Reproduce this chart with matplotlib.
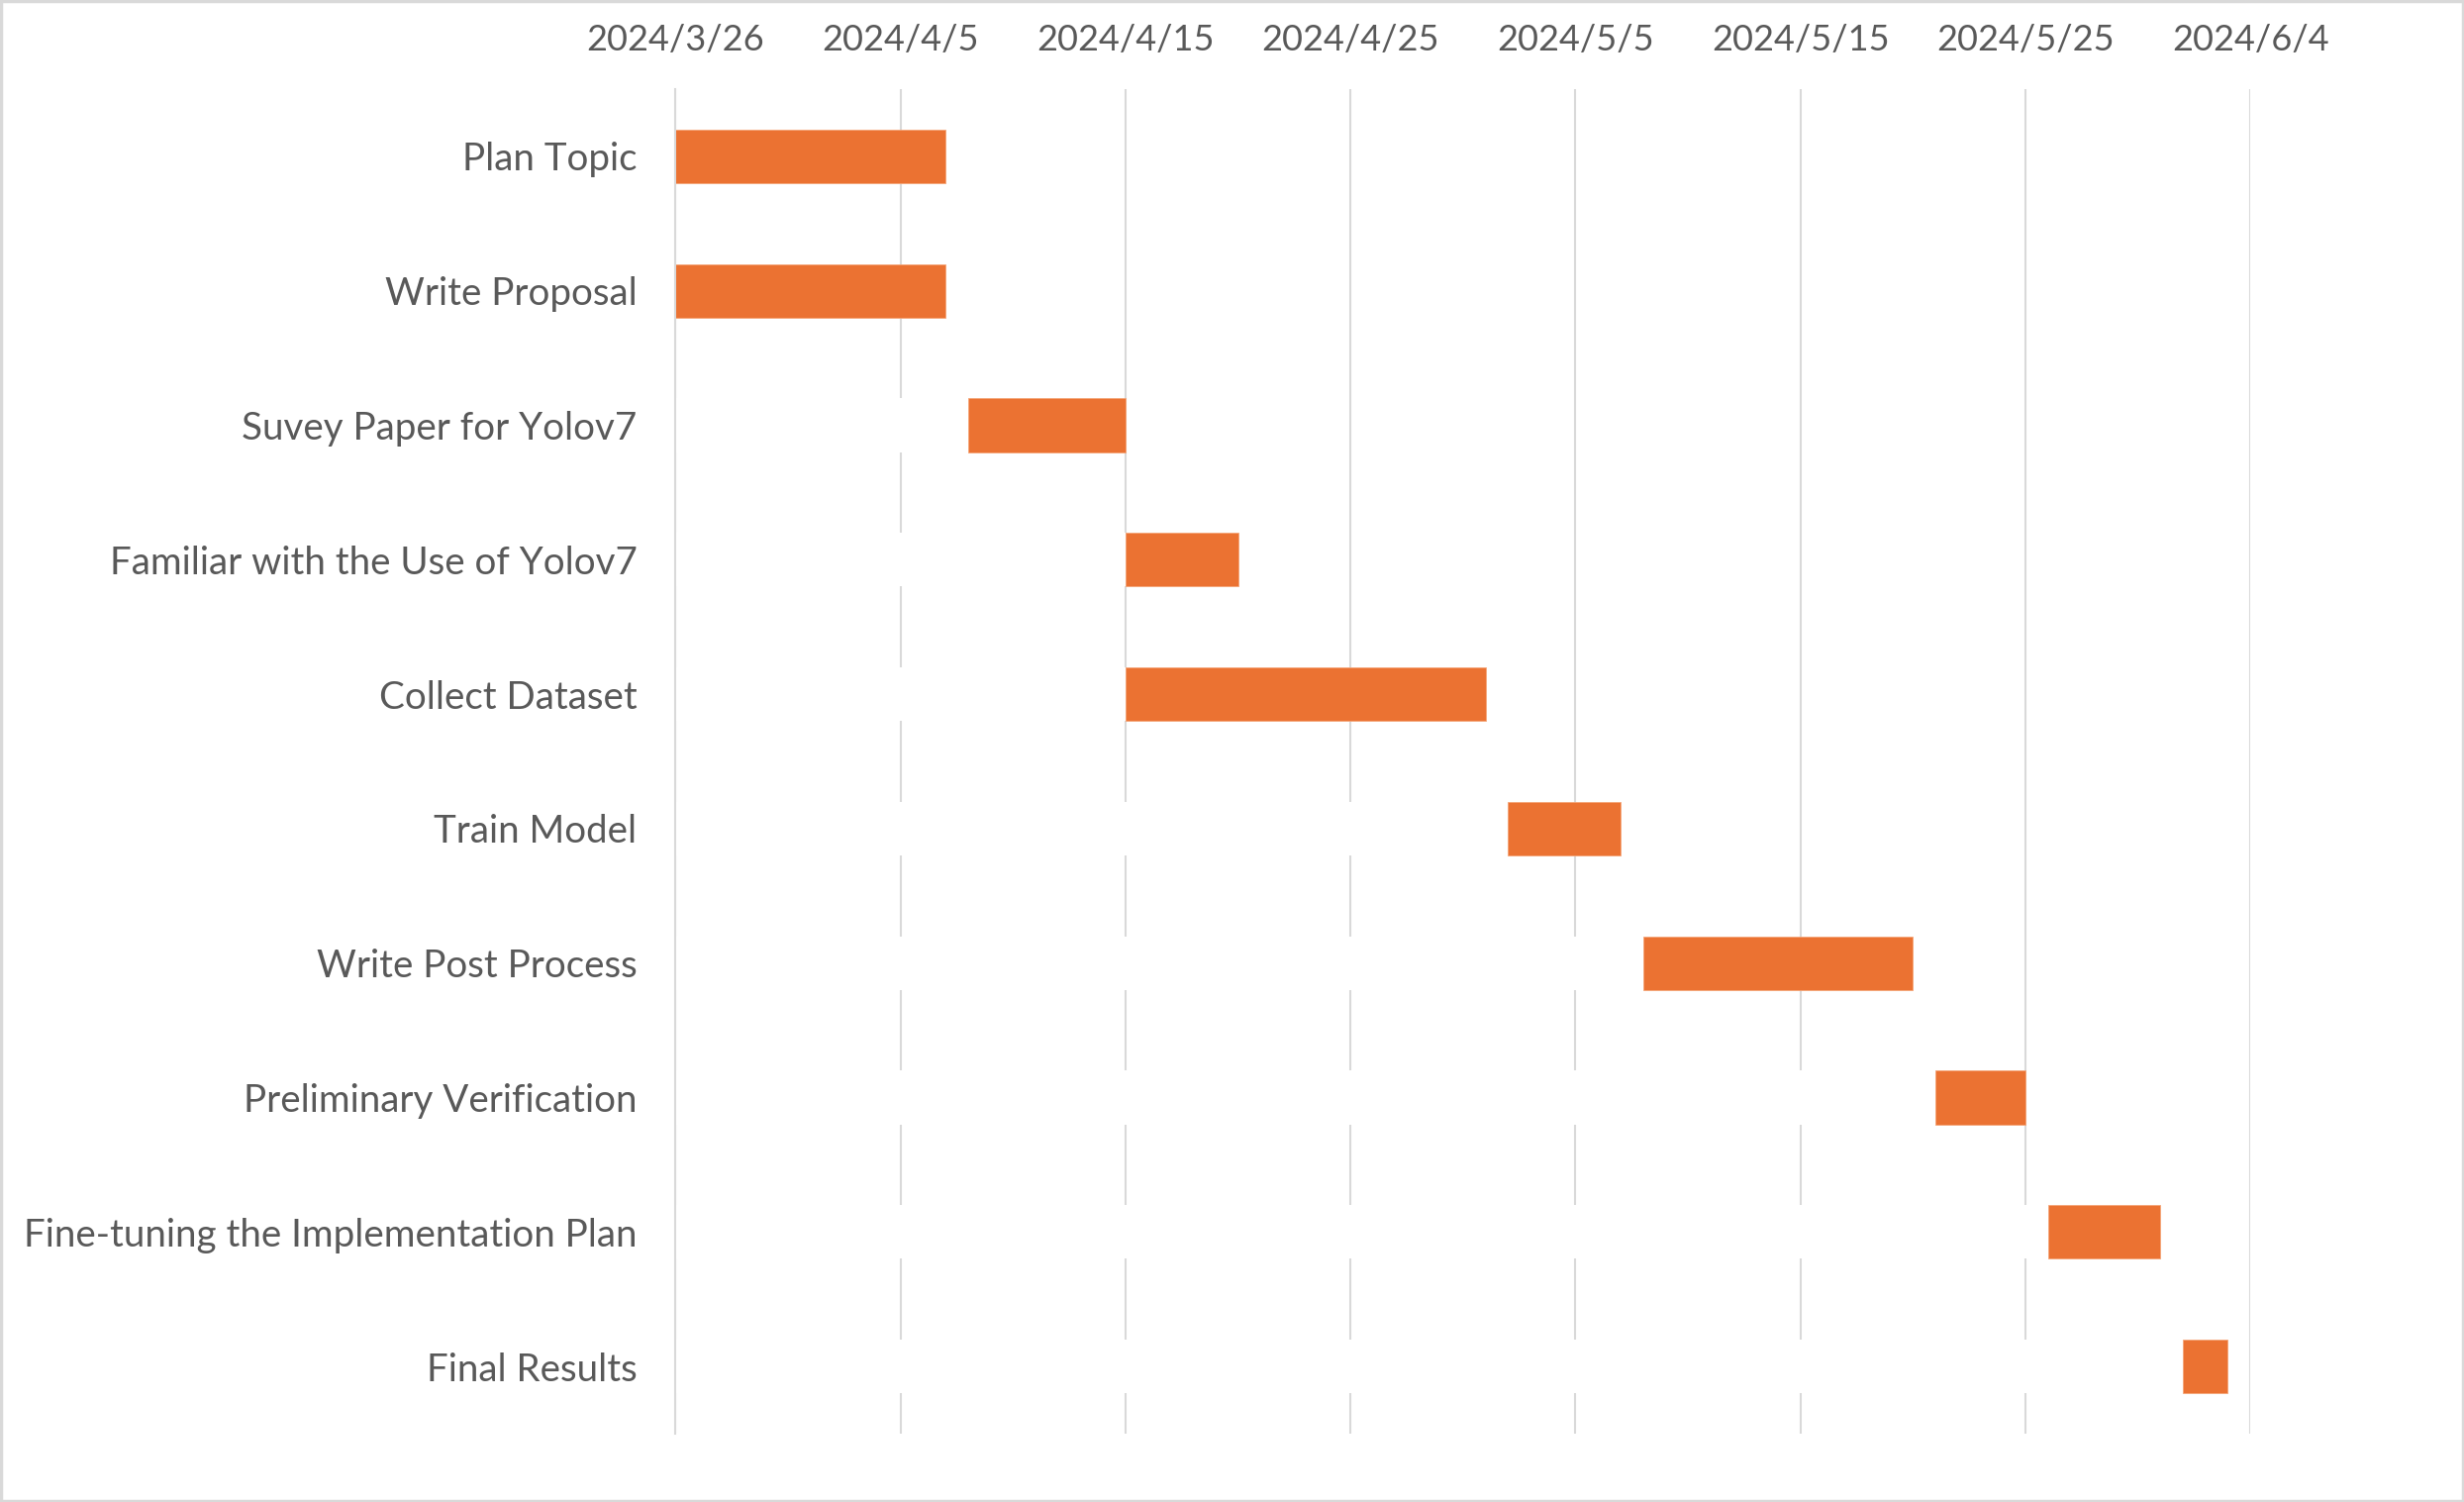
import datetime as dt
import matplotlib
matplotlib.use("Agg")
from matplotlib import pyplot as plt
import matplotlib.dates as mdates
from matplotlib.patches import Rectangle

# Task data (start date, duration in days)
tasks = ['Plan Topic', 'Write Proposal', 'Suvey Paper for Yolov7',
         'Familiar with the Use of Yolov7', 'Collect Dataset', 'Train Model',
         'Write Post Process', 'Preliminary Verification',
         'Fine-tuning the Implementation Plan', 'Final Results']
starts = ['2024-03-26', '2024-03-26', '2024-04-08', '2024-04-15', '2024-04-15',
          '2024-05-02', '2024-05-08', '2024-05-21', '2024-05-26', '2024-06-01']
durations = [12, 12, 7, 5, 16, 5, 12, 4, 5, 2]

axis_start = '2024-03-26'
axis_end = '2024-06-04'
tick_step = 10

plt.rcParams['font.family'] = ['Lato', 'DejaVu Sans']
text_color = '#595959'
grid_color = '#D9D9D9'
bar_color = '#EB7232'

fig = plt.figure(figsize=(24.89, 15.17), dpi=100)
ax = fig.add_axes([0.2742, 0.0455, 0.9133 - 0.2742, 0.9407 - 0.0455])

x0 = mdates.date2num(dt.datetime.fromisoformat(axis_start))
x1 = mdates.date2num(dt.datetime.fromisoformat(axis_end))
start_nums = [mdates.date2num(dt.datetime.fromisoformat(s)) for s in starts]
ypos = list(range(len(tasks)))

# Invisible (white) offset series, like the Excel Gantt trick - hides gridlines
ax.barh(ypos, [s - x0 for s in start_nums], left=x0, height=0.4,
        color='white', zorder=3)
# Actual task durations
ax.barh(ypos, durations, left=start_nums, height=0.4,
        color=bar_color, edgecolor='#F4A578', linewidth=0.6, zorder=4)

# Axes setup
ax.set_xlim(x0, x1)
ax.set_ylim(len(tasks) - 0.5, -0.5)
ticks = [x0 + i * tick_step for i in range(int((x1 - x0) // tick_step) + 1)]
ax.set_xticks(ticks)
labels = []
for t in ticks:
    d = mdates.num2date(t)
    labels.append(f"{d.year}/{d.month}/{d.day}")
ax.set_xticklabels(labels)
ax.set_yticks(ypos)
ax.set_yticklabels(tasks)

ax.xaxis.tick_top()
ax.tick_params(axis='x', length=0, pad=24, labelsize=26, labelcolor=text_color)
ax.tick_params(axis='y', length=0, pad=28, labelsize=27.7, labelcolor=text_color)

ax.grid(axis='x', color=grid_color, linewidth=1.5, zorder=1)
ax.set_axisbelow(True)
for side in ['top', 'right', 'bottom']:
    ax.spines[side].set_visible(False)
ax.spines['left'].set_color(grid_color)
ax.spines['left'].set_linewidth(1.5)
ax.spines['left'].set_zorder(5)

# Light border around the whole chart
fig.patches.append(Rectangle((0.0005, 0.0008), 0.999, 0.9984, transform=fig.transFigure,
                             fill=False, edgecolor=grid_color, linewidth=2.5))

fig.savefig('out.png', dpi=100)
